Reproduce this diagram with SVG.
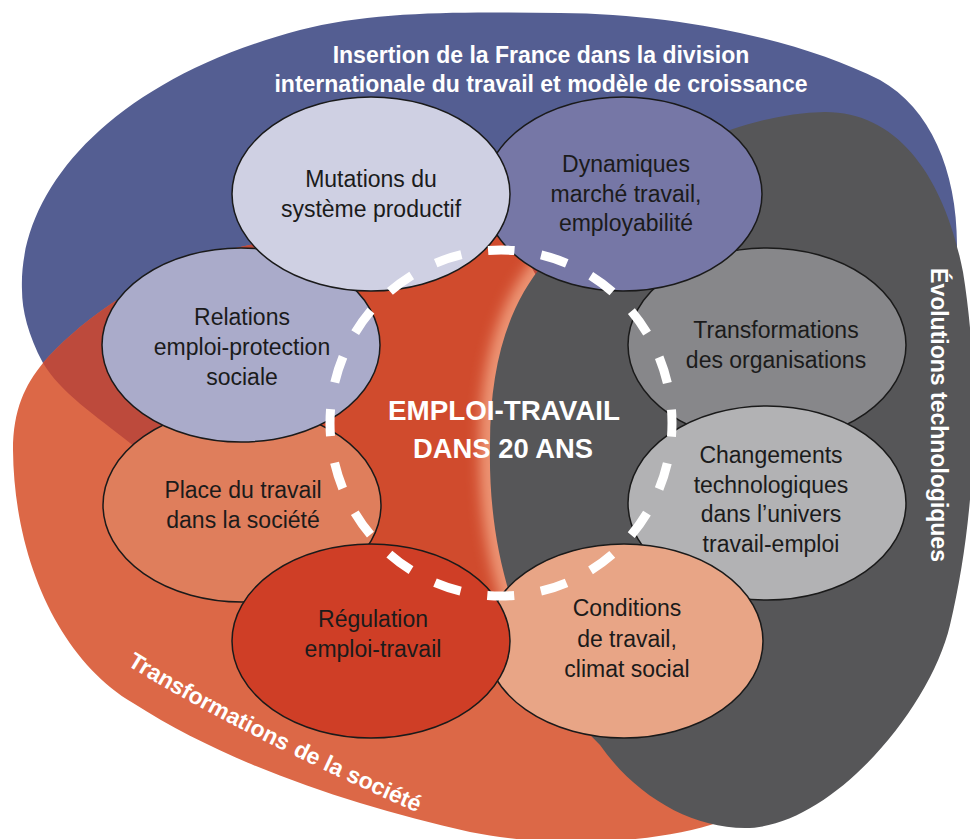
<svg xmlns="http://www.w3.org/2000/svg" width="970" height="839" viewBox="0 0 970 839">
<style>
.node-shape{stroke:#1a1a1a;stroke-width:1.5}
.nt{font-family:"Liberation Sans",Arial,sans-serif;font-size:23px;fill:#1b1b1b;text-anchor:middle}
.wt{font-family:"Liberation Sans",Arial,sans-serif;font-weight:bold;fill:#ffffff}
</style>
<defs>
<path id="bluePath" d="M22,290 C18,190 110,80 300,30 C376,10 470,12 560,13 C680,14 800,40 880,80 C930,108 957,170 957,245 C957,400 700,520 480,545 C330,548 200,500 130,443 C95,415 60,392 43,363 C28,335 22,310 22,290 Z"/>
<path id="orangePath" d="M13,450 C13,410 25,385 43,363 C80,320 160,260 260,243 C360,228 600,228 720,250 C880,290 950,420 940,560 C930,700 800,790 720,822 C660,842 560,850 470,832 C350,805 230,765 133,703 C60,660 14,560 13,450 Z"/>
<path id="grayPath" d="M825,112 C900,112 945,180 963,272 C982,390 975,520 950,625 C930,710 830,828 745,828 C690,828 635,795 600,745 C515,660 488,550 490,445 C490,365 508,305 545,262 C600,195 705,115 825,112 Z"/>
<clipPath id="clipBlue"><use href="#bluePath"/></clipPath>
<clipPath id="clipCenter"><ellipse cx="440" cy="420" rx="130" ry="215"/></clipPath>
<filter id="blur" x="-20%" y="-20%" width="140%" height="140%"><feGaussianBlur stdDeviation="7"/></filter>
<path id="socPath" d="M127,665 Q240,735 430,818"/>
</defs>

<g id="backgrounds">
<use href="#bluePath" fill="#545e92"/>
<use href="#orangePath" fill="#dc6847"/>
<use href="#orangePath" fill="#bd4a3c" clip-path="url(#clipBlue)"/>
<ellipse cx="440" cy="420" rx="130" ry="215" fill="#d04b2d"/>
<g clip-path="url(#clipCenter)">
<use href="#grayPath" fill="none" stroke="#ef9a79" stroke-width="20" filter="url(#blur)"/>
</g>
<use href="#grayPath" fill="#565658"/>
</g>

<g id="labels">
<text class="wt" font-size="23" text-anchor="middle"><tspan x="541" y="63">Insertion de la France dans la division</tspan><tspan x="541" y="92">internationale du travail et modèle de croissance</tspan></text>
<text class="wt" font-size="23" text-anchor="middle" transform="translate(931,415) rotate(90)" x="0" y="0">Évolutions technologiques</text>
<text class="wt" font-size="23"><textPath href="#socPath">Transformations</textPath></text>
<text class="wt" font-size="23"><textPath href="#socPath" startOffset="188">de la société</textPath></text>
</g>

<g id="node-transformations">
<ellipse class="node-shape" cx="767" cy="345" rx="139" ry="97" fill="#87878a"/>
<text class="nt"><tspan x="776" y="338">Transformations</tspan><tspan x="776" y="368">des organisations</tspan></text>
</g>
<g id="node-changements">
<ellipse class="node-shape" cx="767" cy="503" rx="139" ry="97" fill="#b2b2b4"/>
<text class="nt"><tspan x="771" y="463">Changements</tspan><tspan x="771" y="493">technologiques</tspan><tspan x="771" y="522">dans l’univers</tspan><tspan x="771" y="552">travail-emploi</tspan></text>
</g>
<g id="node-conditions">
<ellipse class="node-shape" cx="624" cy="641" rx="139" ry="97" fill="#e8a586"/>
<text class="nt"><tspan x="627" y="616">Conditions</tspan><tspan x="627" y="647">de travail,</tspan><tspan x="627" y="677">climat social</tspan></text>
</g>
<g id="node-place">
<ellipse class="node-shape" cx="242" cy="505" rx="139" ry="97" fill="#df7e5c"/>
<text class="nt"><tspan x="243" y="498">Place du travail</tspan><tspan x="243" y="528">dans la société</tspan></text>
</g>
<g id="node-regulation">
<ellipse class="node-shape" cx="371" cy="641" rx="139" ry="97" fill="#cf3e26"/>
<text class="nt"><tspan x="373" y="627">Régulation</tspan><tspan x="373" y="657">emploi-travail</tspan></text>
</g>
<g id="node-dynamiques">
<ellipse class="node-shape" cx="623" cy="194" rx="139" ry="97" fill="#7677a6"/>
<text class="nt"><tspan x="626" y="172">Dynamiques</tspan><tspan x="626" y="202">marché travail,</tspan><tspan x="626" y="231">employabilité</tspan></text>
</g>
<g id="node-relations">
<ellipse class="node-shape" cx="241" cy="345" rx="139" ry="97" fill="#aaabca"/>
<text class="nt"><tspan x="242" y="325">Relations</tspan><tspan x="242" y="355">emploi-protection</tspan><tspan x="242" y="385">sociale</tspan></text>
</g>
<g id="node-mutations">
<ellipse class="node-shape" cx="371" cy="194" rx="139" ry="97" fill="#cfd0e3"/>
<text class="nt"><tspan x="371" y="187">Mutations du</tspan><tspan x="371" y="217">système productif</tspan></text>
</g>

<g id="connectors">
<path d="M501,250 A171,173 0 1 1 501,596 A171,173 0 1 1 501,250" fill="none" stroke="#ffffff" stroke-width="9" stroke-dasharray="27 27.04" stroke-dashoffset="13.5"/>
</g>

<g id="node-center">
<text class="wt" font-size="28" text-anchor="middle" x="504" y="420" textLength="232" lengthAdjust="spacingAndGlyphs">EMPLOI-TRAVAIL</text>
<text class="wt" font-size="28" text-anchor="middle" x="503" y="458" textLength="180" lengthAdjust="spacingAndGlyphs">DANS 20 ANS</text>
</g>
</svg>
